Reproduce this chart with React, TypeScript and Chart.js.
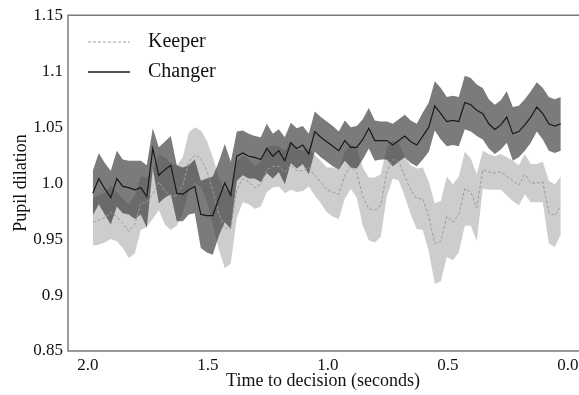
import React, { useEffect, useRef } from "react";
import { Chart, registerables } from "chart.js";

Chart.register(...registerables);

const times = [
  1.98, 1.955, 1.93, 1.905, 1.88, 1.855, 1.83, 1.805, 1.78, 1.755,
  1.73, 1.705, 1.68, 1.655, 1.63, 1.605, 1.58, 1.555, 1.53, 1.505,
  1.48, 1.455, 1.43, 1.405, 1.38, 1.355, 1.33, 1.305, 1.28, 1.255,
  1.23, 1.205, 1.18, 1.155, 1.13, 1.105, 1.08, 1.055, 1.03, 1.005,
  0.98, 0.955, 0.93, 0.905, 0.88, 0.855, 0.83, 0.805, 0.78, 0.755,
  0.73, 0.705, 0.68, 0.655, 0.63, 0.605, 0.58, 0.555, 0.53, 0.505,
  0.48, 0.455, 0.43, 0.405, 0.38, 0.355, 0.33, 0.305, 0.28, 0.255,
  0.23, 0.205, 0.18, 0.155, 0.13, 0.105, 0.08, 0.055, 0.03,
];

const keeperMean = [
  0.965, 0.967, 0.969, 0.974, 0.970, 0.964, 0.957, 0.963, 0.982, 0.983,
  0.990, 1.001, 0.993, 0.988, 0.989, 0.998, 1.019, 1.025, 1.022, 1.011,
  0.993, 0.973, 0.959, 0.961, 0.994, 1.004, 1.001, 0.996, 0.999, 1.012,
  1.015, 1.015, 1.010, 1.016, 1.011, 1.011, 1.014, 1.007, 1.001, 0.994,
  0.992, 0.990, 1.007, 1.015, 1.009, 0.988, 0.977, 0.976, 0.980, 1.010,
  1.021, 1.019, 1.006, 0.994, 0.986, 0.986, 0.970, 0.946, 0.948, 0.970,
  0.965, 0.972, 0.995, 0.992, 0.978, 1.012, 1.010, 1.009, 1.010, 1.006,
  1.002, 0.998, 1.008, 1.000, 1.000, 1.001, 0.974, 0.971, 0.980,
];

const keeperErr = [
  0.021, 0.022, 0.022, 0.024, 0.022, 0.022, 0.024, 0.026, 0.024, 0.022,
  0.022, 0.025, 0.030, 0.030, 0.027, 0.025, 0.026, 0.025, 0.025, 0.027,
  0.030, 0.032, 0.035, 0.033, 0.025, 0.021, 0.020, 0.019, 0.020, 0.020,
  0.019, 0.018, 0.019, 0.022, 0.019, 0.018, 0.017, 0.018, 0.019, 0.020,
  0.022, 0.022, 0.021, 0.020, 0.022, 0.026, 0.028, 0.029, 0.028, 0.022,
  0.017, 0.017, 0.018, 0.022, 0.027, 0.028, 0.031, 0.036, 0.036, 0.036,
  0.034, 0.034, 0.033, 0.030, 0.030, 0.017, 0.016, 0.015, 0.016, 0.017,
  0.018, 0.018, 0.018, 0.017, 0.017, 0.018, 0.028, 0.028, 0.026,
];

const changerMean = [
  0.991, 1.004, 0.995, 0.987, 1.004, 0.997, 0.996, 0.994, 0.996, 0.988,
  1.031, 1.007, 1.012, 1.016, 0.991, 0.990, 0.994, 0.997, 0.972, 0.971,
  0.971, 0.986, 1.000, 0.989, 1.024, 1.027, 1.024, 1.023, 1.021, 1.031,
  1.024, 1.029, 1.020, 1.036, 1.031, 1.034, 1.026, 1.046, 1.041, 1.037,
  1.033, 1.029, 1.038, 1.032, 1.032, 1.039, 1.049, 1.038, 1.038, 1.038,
  1.034, 1.038, 1.042, 1.037, 1.034, 1.042, 1.050, 1.069, 1.062, 1.055,
  1.056, 1.055, 1.072, 1.070, 1.065, 1.062, 1.053, 1.048, 1.052, 1.059,
  1.044, 1.046, 1.052, 1.059, 1.068, 1.062, 1.053, 1.051, 1.053,
];

const changerErr = [
  0.020, 0.023, 0.023, 0.024, 0.025, 0.024, 0.024, 0.026, 0.024, 0.028,
  0.018, 0.025, 0.025, 0.026, 0.025, 0.024, 0.022, 0.024, 0.030, 0.033,
  0.035, 0.033, 0.035, 0.030, 0.022, 0.020, 0.020, 0.019, 0.020, 0.022,
  0.020, 0.019, 0.021, 0.018, 0.018, 0.017, 0.018, 0.018, 0.018, 0.018,
  0.018, 0.017, 0.018, 0.018, 0.019, 0.018, 0.018, 0.018, 0.017, 0.017,
  0.019, 0.019, 0.019, 0.019, 0.019, 0.021, 0.022, 0.022, 0.023, 0.022,
  0.022, 0.022, 0.024, 0.024, 0.023, 0.023, 0.022, 0.022, 0.022, 0.023,
  0.024, 0.023, 0.023, 0.023, 0.022, 0.023, 0.024, 0.024, 0.024,
];

const seriesNames = ["Keeper", "Changer"];
const xTickValues = [2.0, 1.5, 1.0, 0.5, 0.0];
const xTickLabels = ["2.0", "1.5", "1.0", "0.5", "0.0"];
const yTickValues = [0.85, 0.9, 0.95, 1.0, 1.05, 1.1, 1.15];
const yTickLabels = ["0.85", "0.9", "0.95", "1.0", "1.05", "1.1", "1.15"];
const xTitle = "Time to decision (seconds)";
const yTitle = "Pupil dilation";

const FONT = "'Liberation Serif', 'DejaVu Serif', serif";

const toPoints = (vals: number[]) => times.map((t, i) => ({ x: t, y: vals[i] }));

export default function App() {
  const canvasRef = useRef<HTMLCanvasElement | null>(null);

  useEffect(() => {
    const canvas = canvasRef.current;
    if (!canvas) return;

    const keeperUpper = keeperMean.map((m, i) => m + keeperErr[i]);
    const keeperLower = keeperMean.map((m, i) => m - keeperErr[i]);
    const changerUpper = changerMean.map((m, i) => m + changerErr[i]);
    const changerLower = changerMean.map((m, i) => m - changerErr[i]);

    const framePlugin = {
      id: "frameAndLegend",
      afterDraw(chart: any) {
        const { ctx, chartArea } = chart;
        ctx.save();
        ctx.strokeStyle = "#7a7a7a";
        ctx.lineWidth = 1.5;
        ctx.beginPath();
        ctx.moveTo(chartArea.right + 2, chartArea.top);
        ctx.lineTo(chartArea.left, chartArea.top);
        ctx.lineTo(chartArea.left, chartArea.bottom);
        ctx.lineTo(chartArea.right + 2, chartArea.bottom);
        ctx.stroke();

        // legend
        ctx.font = `20px ${FONT}`;
        ctx.textBaseline = "middle";
        ctx.textAlign = "left";
        ctx.fillStyle = "#111";
        ctx.strokeStyle = "#a0a0a0";
        ctx.lineWidth = 1;
        ctx.setLineDash([3, 2]);
        ctx.beginPath();
        ctx.moveTo(88, 42);
        ctx.lineTo(130, 42);
        ctx.stroke();
        ctx.setLineDash([]);
        ctx.fillText(seriesNames[0], 148, 42);
        ctx.strokeStyle = "#1a1a1a";
        ctx.lineWidth = 1.3;
        ctx.beginPath();
        ctx.moveTo(88, 72);
        ctx.lineTo(130, 72);
        ctx.stroke();
        ctx.fillText(seriesNames[1], 148, 72);
        ctx.restore();
      },
    };

    const chart = new Chart(canvas, {
      type: "line",
      data: {
        datasets: [
          {
            label: seriesNames[1],
            data: toPoints(changerMean),
            borderColor: "#1a1a1a",
            borderWidth: 1.2,
            pointRadius: 0,
            fill: false,
            tension: 0,
          },
          {
            label: seriesNames[0],
            data: toPoints(keeperMean),
            borderColor: "#9a9a9a",
            borderWidth: 1,
            borderDash: [3, 2],
            pointRadius: 0,
            fill: false,
            tension: 0,
          },
          {
            label: "changerUpper",
            data: toPoints(changerUpper),
            borderWidth: 0,
            borderColor: "rgba(0,0,0,0)",
            backgroundColor: "rgba(55,55,55,0.66)",
            pointRadius: 0,
            fill: "+1",
          },
          {
            label: "changerLower",
            data: toPoints(changerLower),
            borderWidth: 0,
            borderColor: "rgba(0,0,0,0)",
            pointRadius: 0,
            fill: false,
          },
          {
            label: "keeperUpper",
            data: toPoints(keeperUpper),
            borderWidth: 0,
            borderColor: "rgba(0,0,0,0)",
            backgroundColor: "rgba(150,150,150,0.48)",
            pointRadius: 0,
            fill: "+1",
          },
          {
            label: "keeperLower",
            data: toPoints(keeperLower),
            borderWidth: 0,
            borderColor: "rgba(0,0,0,0)",
            pointRadius: 0,
            fill: false,
          },
        ],
      },
      options: {
        responsive: false,
        animation: false,
        devicePixelRatio: 1,
        layout: { padding: { top: 15, right: 1, left: 0, bottom: 0 } },
        plugins: {
          legend: { display: false },
          tooltip: { enabled: false },
        },
        scales: {
          x: {
            type: "linear",
            reverse: true,
            min: -0.0417,
            max: 2.0833,
            grid: { display: false, drawTicks: false },
            border: { display: false },
            afterBuildTicks: (s: any) => {
              s.ticks = xTickValues.map((v) => ({ value: v }));
            },
            afterFit: (s: any) => {
              s.height = 44;
              s.paddingLeft = 0;
              s.paddingRight = 0;
            },
            ticks: {
              autoSkip: false,
              maxRotation: 0,
              padding: 4,
              color: "#111",
              font: { family: FONT, size: 17 },
              callback: (v: any) => xTickLabels[xTickValues.indexOf(Number(v))] ?? "",
            },
            title: {
              display: true,
              text: xTitle,
              color: "#111",
              font: { family: FONT, size: 18 },
              padding: { top: 0, bottom: 3 },
            },
          },
          y: {
            type: "linear",
            min: 0.85,
            max: 1.15,
            grid: { display: false, drawTicks: false },
            border: { display: false },
            afterBuildTicks: (s: any) => {
              s.ticks = yTickValues.map((v) => ({ value: v }));
            },
            afterFit: (s: any) => {
              s.width = 68;
            },
            ticks: {
              autoSkip: false,
              padding: 5,
              color: "#111",
              font: { family: FONT, size: 17 },
              callback: (v: any) => {
                const idx = yTickValues.findIndex((t) => Math.abs(t - Number(v)) < 1e-6);
                return idx >= 0 ? yTickLabels[idx] : "";
              },
            },
            title: {
              display: true,
              text: yTitle,
              color: "#111",
              font: { family: FONT, size: 18 },
              padding: { top: 10, bottom: 0 },
            },
          },
        },
      },
      plugins: [framePlugin],
    });

    return () => chart.destroy();
  }, []);

  return (
    <div style={{ position: "fixed", left: 0, top: 0, width: 579, height: 395, background: "#fff" }}>
      <canvas ref={canvasRef} width={579} height={395} style={{ display: "block" }} />
    </div>
  );
}
